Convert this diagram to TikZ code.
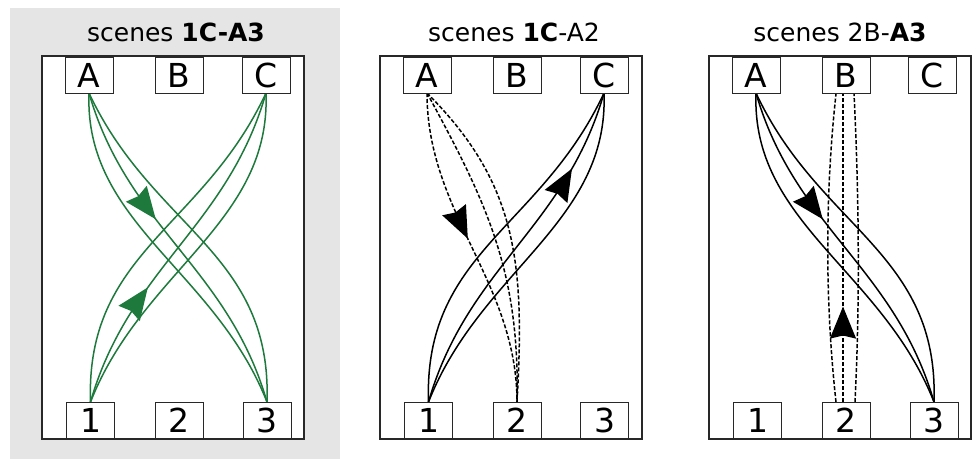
\documentclass[tikz,border=0pt]{standalone}
\usepackage{fontspec}
\setmainfont{DejaVu Sans}
\usetikzlibrary{arrows.meta,decorations.markings}
\definecolor{linkgreen}{RGB}{30,122,60}
\definecolor{panelgray}{RGB}{229,229,229}
\definecolor{edgegray}{RGB}{40,40,40}
\begin{document}
\begin{tikzpicture}[x=1pt,y=1pt,
  frame/.style={draw=edgegray,fill=white,line width=1.1pt},
  box/.style={draw=edgegray,fill=white,line width=1pt,minimum width=48pt,
    minimum height=36pt,inner sep=0pt,font=\fontsize{33}{40}\selectfont},
  ttl/.style={anchor=base,inner sep=0pt,font=\fontsize{25}{30}\selectfont},
  link/.style={line width=1.5pt},
  dlink/.style={line width=1.5pt,dash pattern=on 4pt off 2pt},
  midarrow/.style={postaction={decorate},decoration={markings,
    mark=at position #1 with {\arrow{Stealth[length=32pt,width=26pt,inset=3pt]}}}}]
\useasboundingbox (0,0) rectangle (972,-459);

% shaded first panel
\fill[panelgray] (10,-8) rectangle (340,-459);

% ---------- panel 1 ----------
\draw[frame] (42,-56) rectangle (304,-439);
\node[ttl] (t1) at (176,-41.5) {scenes \textbf{1C-A3}};
\coordinate (p1Ab) at (89,-93);
\coordinate (p1Cb) at (266,-93);
\coordinate (p1Ot) at (90.5,-402);
\coordinate (p1Tt) at (267,-402);
\begin{scope}[linkgreen,link]
  \draw (p1Ab) .. controls +(63.5,-136) and +(5,150) .. (p1Tt);
  \draw[midarrow=0.4] (p1Ab) .. controls +(38.6,-134.5) and +(-38.6,134.5) .. (p1Tt);
  \draw (p1Ab) .. controls +(-5,-130) and +(-52,132) .. (p1Tt);
  \draw (p1Ot) .. controls +(-5,150) and +(-63.5,-136) .. (p1Cb);
  \draw[midarrow=0.36] (p1Ot) .. controls +(38.6,134.5) and +(-38.6,-134.5) .. (p1Cb);
  \draw (p1Ot) .. controls +(52,132) and +(5,-130) .. (p1Cb);
\end{scope}
\node[box] (p1A) at (89,-75) {A};
\node[box] (p1B) at (179,-75) {B};
\node[box] (p1C) at (266,-75) {C};
\node[box] (p1n1) at (90.5,-420) {1};
\node[box] (p1n2) at (179,-420) {2};
\node[box] (p1n3) at (267,-420) {3};

% ---------- panel 2 ----------
\draw[frame] (380,-56) rectangle (642,-439);
\node[ttl] (t2) at (514,-41.5) {scenes \textbf{1C}-A2};
\coordinate (p2Ab) at (427,-93);
\coordinate (p2Cb) at (604,-93);
\coordinate (p2Ot) at (428.5,-402);
\coordinate (p2Wt) at (517,-402);
\begin{scope}[link]
  \draw (p2Ot) .. controls +(-5,150) and +(-63.5,-136) .. (p2Cb);
  \draw[midarrow=0.77] (p2Ot) .. controls +(38.6,134.5) and +(-38.6,-134.5) .. (p2Cb);
  \draw (p2Ot) .. controls +(52,132) and +(5,-130) .. (p2Cb);
\end{scope}
\begin{scope}[dlink]
  \draw[midarrow=0.47] (p2Ab) .. controls +(0,-120) and +(0,120) .. (p2Wt);
  \draw (p2Ab) .. controls +(60,-110) and +(3,130) .. (p2Wt);
  \draw (p2Ab) .. controls +(90,-90) and +(8,140) .. (p2Wt);
\end{scope}
\node[box] (p2A) at (427,-75) {A};
\node[box] (p2B) at (517,-75) {B};
\node[box] (p2C) at (604,-75) {C};
\node[box] (p2n1) at (428.5,-420) {1};
\node[box] (p2n2) at (517,-420) {2};
\node[box] (p2n3) at (604.5,-420) {3};

% ---------- panel 3 ----------
\draw[frame] (709,-56) rectangle (971,-439);
\node[ttl] (t3) at (840,-41.5) {scenes 2B-\textbf{A3}};
\coordinate (p3Ab) at (756,-93);
\coordinate (p3Tt) at (934,-402);
\coordinate (p3Bl) at (836,-94);
\coordinate (p3Bm) at (843,-94);
\coordinate (p3Br) at (854,-94);
\coordinate (p3Wl) at (836,-402);
\coordinate (p3Wm) at (843,-402);
\coordinate (p3Wr) at (855,-402);
\begin{scope}[link]
  \draw (p3Ab) .. controls +(63.5,-136) and +(5,150) .. (p3Tt);
  \draw[midarrow=0.4] (p3Ab) .. controls +(38.6,-134.5) and +(-38.6,134.5) .. (p3Tt);
  \draw (p3Ab) .. controls +(-5,-130) and +(-52,132) .. (p3Tt);
\end{scope}
\begin{scope}[dlink]
  \draw (p3Wl) .. controls +(-11,100) and +(-11,-100) .. (p3Bl);
  \draw[midarrow=0.31] (p3Wm) -- (p3Bm);
  \draw (p3Wr) .. controls +(5,100) and +(5,-100) .. (p3Br);
\end{scope}
\node[box] (p3A) at (756,-75) {A};
\node[box] (p3B) at (846,-75) {B};
\node[box] (p3C) at (932.5,-75) {C};
\node[box] (p3n1) at (757.5,-420) {1};
\node[box] (p3n2) at (846,-420) {2};
\node[box] (p3n3) at (934,-420) {3};
\end{tikzpicture}
\end{document}
